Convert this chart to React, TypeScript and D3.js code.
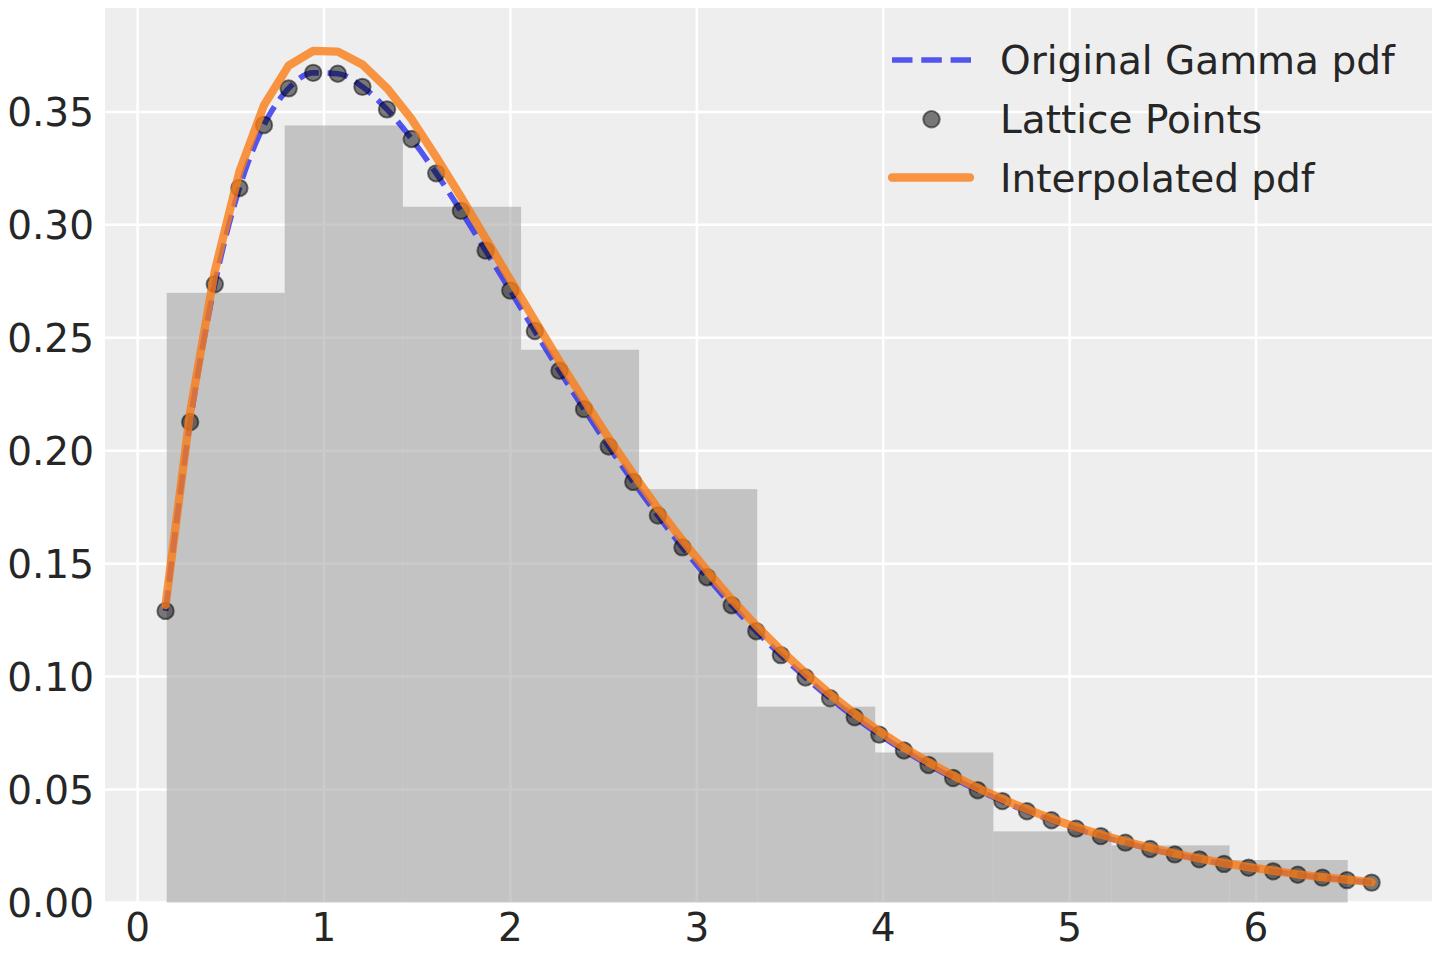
import React, { useRef, useEffect } from "react"
import * as d3 from "d3"

// lattice x positions
const latticeX = [
	0.150, 0.282, 0.414, 0.546, 0.678, 0.810, 0.942, 1.074, 1.206, 1.338,
	1.470, 1.602, 1.734, 1.867, 1.999, 2.131, 2.263, 2.395, 2.527, 2.659,
	2.791, 2.923, 3.055, 3.187, 3.319, 3.451, 3.583, 3.715, 3.847, 3.979,
	4.111, 4.243, 4.375, 4.507, 4.639, 4.771, 4.903, 5.035, 5.167, 5.299,
	5.432, 5.564, 5.696, 5.828, 5.960, 6.092, 6.224, 6.356, 6.488, 6.620,
]

// original gamma pdf at the lattice points
const gammaPdf = [
	0.1291, 0.2127, 0.2737, 0.3163, 0.3442, 0.3604, 0.3673, 0.3669, 0.3611, 0.3511,
	0.3380, 0.3228, 0.3062, 0.2886, 0.2709, 0.2530, 0.2354, 0.2184, 0.2019, 0.1862,
	0.1713, 0.1572, 0.1440, 0.1316, 0.1201, 0.1095, 0.0996, 0.0904, 0.0820, 0.0743,
	0.0673, 0.0609, 0.0551, 0.0497, 0.0449, 0.0404, 0.0364, 0.0327, 0.0294, 0.0265,
	0.0237, 0.0213, 0.0191, 0.0171, 0.0154, 0.0138, 0.0123, 0.0110, 0.0099, 0.0088,
]

// interpolated pdf
const interpPdf = [
	0.1317, 0.2170, 0.2795, 0.3235, 0.3530, 0.3705, 0.3770, 0.3767, 0.3710, 0.3605,
	0.3468, 0.3300, 0.3125, 0.2940, 0.2758, 0.2576, 0.2397, 0.2224, 0.2056, 0.1897,
	0.1745, 0.1603, 0.1469, 0.1342, 0.1225, 0.1117, 0.1016, 0.0922, 0.0836, 0.0758,
	0.0686, 0.0621, 0.0562, 0.0507, 0.0458, 0.0412, 0.0371, 0.0334, 0.0300, 0.0270,
	0.0242, 0.0217, 0.0195, 0.0174, 0.0157, 0.0141, 0.0125, 0.0112, 0.0101, 0.0090,
]

// histogram of the samples (density)
const binEdges = [0.156, 0.789, 1.423, 2.057, 2.690, 3.324, 3.957, 4.591, 5.225, 5.858, 6.492]
const binHeights = [0.2699, 0.3440, 0.3080, 0.2447, 0.1830, 0.0867, 0.0664, 0.0315, 0.0253, 0.0188]

const xTicks = [0, 1, 2, 3, 4, 5, 6]
const yTicks = [0, 0.05, 0.1, 0.15, 0.2, 0.25, 0.3, 0.35]
const legendLabels = ["Original Gamma pdf", "Lattice Points", "Interpolated pdf"]

const W = 1440
const H = 960
const FONT = "DejaVu Sans"
const FONT_SIZE = 39

const App: React.FunctionComponent = () => {
	const svgRef = useRef<any>()

	useEffect(() => {
		const svg = d3.select(svgRef.current)
		svg.selectAll("*").remove()

		const left = 105
		const right = 1432
		const top = 8
		const bottom = 902.5

		const xScale = d3.scaleLinear().domain([-0.175, 6.944]).range([left, right])
		const yScale = d3.scaleLinear().domain([0, 0.396]).range([bottom, top])

		// background
		svg.append("rect")
			.attr("x", left)
			.attr("y", top)
			.attr("width", right - left)
			.attr("height", bottom - top)
			.attr("fill", "#eeeeee")

		// grid
		const grid = svg.append("g").attr("stroke", "white").attr("stroke-width", 2.5)
		grid.selectAll(".gx")
			.data(xTicks)
			.join("line")
			.attr("x1", (d) => xScale(d))
			.attr("x2", (d) => xScale(d))
			.attr("y1", top)
			.attr("y2", bottom)
		grid.selectAll(".gy")
			.data(yTicks)
			.join("line")
			.attr("class", "gy")
			.attr("x1", left)
			.attr("x2", right)
			.attr("y1", (d) => yScale(d))
			.attr("y2", (d) => yScale(d))

		// histogram
		svg.append("g")
			.selectAll("rect")
			.data(binHeights)
			.join("rect")
			.attr("x", (d, i) => xScale(binEdges[i]))
			.attr("width", (d, i) => xScale(binEdges[i + 1]) - xScale(binEdges[i]))
			.attr("y", (d) => yScale(d))
			.attr("height", (d) => yScale(0) - yScale(d))
			.attr("fill", "rgb(166,166,166)")
			.attr("fill-opacity", 0.6)

		const pts = latticeX.map((x, i) => ({ x, g: gammaPdf[i], f: interpPdf[i] }))

		const gammaLine = d3
			.line<any>()
			.x((d) => xScale(d.x))
			.y((d) => yScale(d.g))
			.curve(d3.curveMonotoneX)

		svg.append("path")
			.attr("d", gammaLine(pts))
			.attr("fill", "none")
			.attr("stroke", "#2a2eec")
			.attr("stroke-opacity", 0.8)
			.attr("stroke-width", 5.6)
			.attr("stroke-dasharray", "20.5,8.8")

		svg.append("g")
			.selectAll("circle")
			.data(pts)
			.join("circle")
			.attr("cx", (d) => xScale(d.x))
			.attr("cy", (d) => yScale(d.g))
			.attr("r", 8.2)
			.attr("fill", "black")
			.attr("fill-opacity", 0.5)
			.attr("stroke", "black")
			.attr("stroke-opacity", 0.5)
			.attr("stroke-width", 2)

		const interpLine = d3
			.line<any>()
			.x((d) => xScale(d.x))
			.y((d) => yScale(d.f))

		svg.append("path")
			.attr("d", interpLine(pts))
			.attr("fill", "none")
			.attr("stroke", "#fa7c17")
			.attr("stroke-opacity", 0.8)
			.attr("stroke-width", 8.3)
			.attr("stroke-linejoin", "round")
			.attr("stroke-linecap", "round")

		// tick labels
		svg.append("g")
			.selectAll("text")
			.data(xTicks)
			.join("text")
			.attr("x", (d) => xScale(d))
			.attr("y", 941)
			.attr("text-anchor", "middle")
			.attr("font-family", FONT)
			.attr("font-size", FONT_SIZE)
			.attr("fill", "#262626")
			.text((d) => d3.format("d")(d))

		svg.append("g")
			.selectAll("text")
			.data(yTicks)
			.join("text")
			.attr("x", 94)
			.attr("y", (d) => yScale(d) + 14.3)
			.attr("text-anchor", "end")
			.attr("font-family", FONT)
			.attr("font-size", FONT_SIZE)
			.attr("fill", "#262626")
			.text((d) => d3.format(".2f")(d))

		// legend
		const legend = svg.append("g")
		const rowY = [60, 119.3, 177.5]
		legend.append("line")
			.attr("x1", 892)
			.attr("x2", 971)
			.attr("y1", rowY[0])
			.attr("y2", rowY[0])
			.attr("stroke", "#2a2eec")
			.attr("stroke-opacity", 0.8)
			.attr("stroke-width", 5.6)
			.attr("stroke-dasharray", "20.5,8.8")
		legend.append("circle")
			.attr("cx", 931.5)
			.attr("cy", rowY[1])
			.attr("r", 8.2)
			.attr("fill", "black")
			.attr("fill-opacity", 0.5)
			.attr("stroke", "black")
			.attr("stroke-opacity", 0.5)
			.attr("stroke-width", 2)
		legend.append("line")
			.attr("x1", 892)
			.attr("x2", 970)
			.attr("y1", rowY[2])
			.attr("y2", rowY[2])
			.attr("stroke", "#fa7c17")
			.attr("stroke-opacity", 0.8)
			.attr("stroke-width", 8.3)
			.attr("stroke-linecap", "round")
		legend.selectAll("text")
			.data(legendLabels)
			.join("text")
			.attr("x", 1000)
			.attr("y", (d, i) => rowY[i] + 14)
			.attr("font-family", FONT)
			.attr("font-size", FONT_SIZE)
			.attr("fill", "#262626")
			.text((d) => d)
	}, [])

	return (
		<svg
			ref={svgRef}
			width={W}
			height={H}
			style={{ position: "absolute", left: 0, top: 0, background: "white" }}
		></svg>
	)
}

export default App
